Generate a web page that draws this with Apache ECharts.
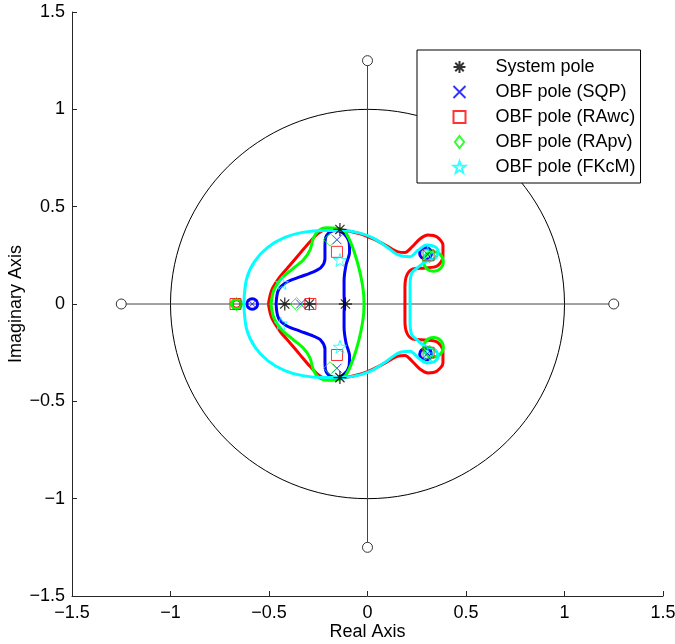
<!DOCTYPE html>
<html>
<head>
<meta charset="utf-8">
<script src="https://cdn.jsdelivr.net/npm/echarts@6/dist/echarts.min.js"></script>
<style>
  html, body { margin: 0; padding: 0; background: #fff; }
  #chart { width: 675px; height: 644px; }
</style>
</head>
<body>
<div id="chart"></div>
<script>
// Pole-zero map: system poles, observer-based filter poles and their pole regions.

const tickValues = [-1.5, -1, -0.5, 0, 0.5, 1, 1.5];

// Pole region boundaries (closed loops, [real, imag])
const regionSQP = [
  [-0.464, 0], [-0.452, 0.072], [-0.409, 0.113], [-0.343, 0.139], [-0.277, 0.164],
  [-0.236, 0.187], [-0.216, 0.231], [-0.216, 0.288], [-0.213, 0.339], [-0.190, 0.370],
  [-0.155, 0.378], [-0.119, 0.360], [-0.094, 0.321], [-0.091, 0.267], [-0.109, 0.200],
  [-0.119, 0.118], [-0.119, 0.046], [-0.117, 0],
  [-0.119, -0.046], [-0.119, -0.118], [-0.109, -0.200], [-0.091, -0.267], [-0.094, -0.321],
  [-0.119, -0.360], [-0.155, -0.378], [-0.190, -0.370], [-0.213, -0.339], [-0.216, -0.288],
  [-0.216, -0.231], [-0.236, -0.187], [-0.277, -0.164], [-0.343, -0.139], [-0.409, -0.113],
  [-0.452, -0.072], [-0.464, 0]
];

const regionRAwc = [
  [-0.503, 0], [-0.486, 0.072], [-0.444, 0.140], [-0.393, 0.200], [-0.343, 0.260],
  [-0.292, 0.320], [-0.250, 0.363], [-0.207, 0.384], [-0.123, 0.379], [-0.038, 0.361],
  [0.029, 0.334], [0.097, 0.299], [0.155, 0.268], [0.190, 0.265], [0.226, 0.293],
  [0.266, 0.334], [0.307, 0.354], [0.353, 0.344], [0.383, 0.303], [0.383, 0.241],
  [0.353, 0.195], [0.292, 0.185], [0.231, 0.180], [0.200, 0.149], [0.190, 0.087],
  [0.190, 0],
  [0.190, -0.087], [0.200, -0.149], [0.231, -0.180], [0.292, -0.185], [0.353, -0.195],
  [0.383, -0.241], [0.383, -0.303], [0.353, -0.344], [0.307, -0.354], [0.266, -0.334],
  [0.226, -0.293], [0.190, -0.265], [0.155, -0.268], [0.097, -0.299], [0.029, -0.334],
  [-0.038, -0.361], [-0.123, -0.379], [-0.207, -0.384], [-0.250, -0.363], [-0.292, -0.320],
  [-0.343, -0.260], [-0.393, -0.200], [-0.444, -0.140], [-0.486, -0.072], [-0.503, 0]
];

const regionRApv = [
  [-0.490, 0], [-0.475, 0.072], [-0.436, 0.132], [-0.377, 0.183], [-0.326, 0.226],
  [-0.292, 0.277], [-0.275, 0.337], [-0.250, 0.376], [-0.207, 0.392], [-0.156, 0.389],
  [-0.114, 0.370], [-0.084, 0.313], [-0.056, 0.231], [-0.033, 0.139], [-0.020, 0.056],
  [-0.018, 0],
  [-0.020, -0.056], [-0.033, -0.139], [-0.056, -0.231], [-0.084, -0.313], [-0.114, -0.370],
  [-0.156, -0.389], [-0.207, -0.392], [-0.250, -0.376], [-0.275, -0.337], [-0.292, -0.277],
  [-0.326, -0.226], [-0.377, -0.183], [-0.436, -0.132], [-0.475, -0.072], [-0.490, 0]
];

const regionFKcM = [
  [-0.628, 0], [-0.614, 0.128], [-0.572, 0.220], [-0.505, 0.292], [-0.420, 0.342],
  [-0.330, 0.368], [-0.224, 0.378], [-0.123, 0.377], [-0.038, 0.364], [0.029, 0.338],
  [0.097, 0.294], [0.156, 0.252], [0.216, 0.243], [0.258, 0.277], [0.300, 0.303],
  [0.343, 0.294], [0.359, 0.269], [0.343, 0.235], [0.292, 0.216], [0.250, 0.183],
  [0.224, 0.158], [0.216, 0.089], [0.216, 0],
  [0.216, -0.089], [0.224, -0.158], [0.250, -0.183], [0.292, -0.216], [0.343, -0.235],
  [0.359, -0.269], [0.343, -0.294], [0.300, -0.303], [0.258, -0.277], [0.216, -0.243],
  [0.156, -0.252], [0.097, -0.294], [0.029, -0.338], [-0.038, -0.364], [-0.123, -0.377],
  [-0.224, -0.378], [-0.330, -0.368], [-0.420, -0.342], [-0.505, -0.292], [-0.572, -0.220],
  [-0.614, -0.128], [-0.628, 0]
];

// Small isolated loops: [centre real, centre imag, radius]
const loopsSQP  = [[-0.585, 0, 0.027], [0.295, 0.260, 0.030], [0.295, -0.258, 0.030]];
const loopsRAwc = [[-0.665, 0, 0.022]];
const loopsRApv = [[-0.665, 0, 0.025], [0.335, 0.218, 0.050], [0.335, -0.222, 0.050]];

// Pole locations
const polesSystem = [[-0.420, 0], [-0.295, 0], [-0.112, 0], [-0.140, 0.383], [-0.140, -0.378]];
const polesSQP  = [[-0.585, 0], [-0.340, 0], [-0.155, 0.330], [-0.155, -0.330], [0.305, 0.255], [0.305, -0.255]];
const polesRAwc = [[-0.670, 0], [-0.290, 0], [-0.155, 0.268], [-0.155, -0.262], [0.310, 0.250], [0.310, -0.250]];
const polesRApv = [[-0.665, 0], [-0.360, 0], [-0.190, 0.330], [-0.190, -0.330], [0.315, 0.245], [0.315, -0.245]];
const polesFKcM = [[-0.434, 0.108], [-0.440, -0.100], [-0.140, 0.226], [-0.140, -0.220], [0.305, 0.260], [0.305, -0.260]];

// Reference geometry: unit circle and the two axis segments with end markers
const unitCircle = [[0, 0, 1]];
const realSegment = [[-1.25, 0], [1.25, 0]];
const imagSegment = [[0, -1.25], [0, 1.25]];

const FONT = 'Liberation Sans, Arial, Helvetica, sans-serif';

const SYM_ASTERISK = 'path://M0,-10L0,10M-10,0L10,0M-7.07,-7.07L7.07,7.07M-7.07,7.07L7.07,-7.07';
const SYM_X = 'path://M-10,-10L10,10M-10,10L10,-10';
const SYM_SQUARE = 'path://M-10,-10L10,-10L10,10L-10,10Z';
const SYM_DIAMOND = 'path://M0,-13L10,0L0,13L-10,0Z';
const SYM_STAR = 'path://M0,-10L2.35,-3.24L9.51,-3.09L3.80,1.24L5.88,8.09L0,4L-5.88,8.09L-3.80,1.24L-9.51,-3.09L-2.35,-3.24Z';

function ellipseSeries(data, color, width, z) {
  return {
    type: 'custom',
    data: data,
    z: z,
    silent: true,
    clip: false,
    renderItem: function (params, api) {
      const c = api.coord([api.value(0), api.value(1)]);
      const s = api.size([api.value(2), api.value(2)]);
      return {
        type: 'ellipse',
        shape: { cx: c[0], cy: c[1], rx: s[0], ry: s[1] },
        style: { fill: 'none', stroke: color, lineWidth: width }
      };
    }
  };
}

function regionSeries(data, color, z) {
  return {
    type: 'line',
    data: data,
    z: z,
    showSymbol: false,
    symbol: 'none',
    smooth: 0.3,
    silent: true,
    lineStyle: { color: color, width: 3 },
    animation: false
  };
}

function poleSeries(name, data, symbol, color, size, bw) {
  return {
    name: name,
    type: 'scatter',
    data: data,
    z: 10,
    symbol: symbol,
    symbolSize: size,
    itemStyle: { color: 'none', borderColor: color, borderWidth: bw },
    animation: false
  };
}

function segmentSeries(data) {
  return {
    type: 'line',
    data: data,
    z: 1,
    symbol: 'circle',
    symbolSize: 10,
    showSymbol: true,
    silent: true,
    lineStyle: { color: '#444', width: 1 },
    itemStyle: { color: '#fff', borderColor: '#333', borderWidth: 1 },
    animation: false
  };
}

const fmt = v => (v < 0 ? '\u2212' + Math.abs(v) : String(v));

const chart = echarts.init(document.getElementById('chart'), null, { renderer: 'canvas' });
chart.setOption({
  animation: false,
  backgroundColor: '#fff',
  textStyle: { fontFamily: FONT },
  grid: { left: 72, right: 12, top: 12, bottom: 48, containLabel: false, outerBoundsMode: 'none' },
  xAxis: {
    type: 'value', min: tickValues[0], max: tickValues[tickValues.length - 1], interval: 0.5,
    splitLine: { show: false },
    axisLine: { onZero: false, lineStyle: { color: '#262626', width: 1 } },
    axisTick: { inside: true, length: 5, lineStyle: { color: '#262626' } },
    axisLabel: { formatter: fmt, fontSize: 18, color: '#000', margin: 8, fontFamily: FONT },
    name: 'Real Axis', nameLocation: 'middle', nameGap: 27, nameMoveOverlap: false,
    nameTextStyle: { fontSize: 18, color: '#000', fontFamily: FONT }
  },
  yAxis: {
    type: 'value', min: tickValues[0], max: tickValues[tickValues.length - 1], interval: 0.5,
    splitLine: { show: false },
    axisLine: { onZero: false, lineStyle: { color: '#262626', width: 1 } },
    axisTick: { inside: true, length: 5, lineStyle: { color: '#262626' } },
    axisLabel: { formatter: fmt, fontSize: 18, color: '#000', margin: 7, fontFamily: FONT },
    name: 'Imaginary Axis', nameLocation: 'middle', nameGap: 47, nameMoveOverlap: false,
    nameTextStyle: { fontSize: 18, color: '#000', fontFamily: FONT }
  },
  legend: {
    left: 417, top: 50, orient: 'vertical',
    backgroundColor: '#fff', borderColor: '#000', borderWidth: 1,
    padding: [7, 5, 6, 34],
    itemWidth: 12, itemHeight: 12, itemGap: 5,
    textStyle: { fontSize: 18, color: '#000', fontFamily: FONT, padding: [0, 0, 0, 25], lineHeight: 20 },
    data: ['System pole', 'OBF pole (SQP)', 'OBF pole (RAwc)', 'OBF pole (RApv)', 'OBF pole (FKcM)']
  },
  series: [
    ellipseSeries(unitCircle, '#000', 1, 1),
    segmentSeries(realSegment),
    segmentSeries(imagSegment),
    regionSeries(regionSQP, '#0000ff', 3),
    ellipseSeries(loopsSQP, '#0000ff', 3, 3),
    regionSeries(regionRAwc, '#ff0000', 4),
    ellipseSeries(loopsRAwc, '#ff0000', 3, 4),
    regionSeries(regionRApv, '#00ff00', 5),
    ellipseSeries(loopsRApv, '#00ff00', 3, 5),
    regionSeries(regionFKcM, '#00ffff', 6),
    poleSeries('System pole', polesSystem, SYM_ASTERISK, '#000', 13, 1.3),
    poleSeries('OBF pole (SQP)', polesSQP, SYM_X, '#0000ff', 9, 1),
    poleSeries('OBF pole (RAwc)', polesRAwc, SYM_SQUARE, '#ff0000', 11, 1),
    poleSeries('OBF pole (RApv)', polesRApv, SYM_DIAMOND, '#00ff00', 13, 1),
    poleSeries('OBF pole (FKcM)', polesFKcM, SYM_STAR, '#00ffff', 13, 1)
  ]
});
</script>
</body>
</html>
